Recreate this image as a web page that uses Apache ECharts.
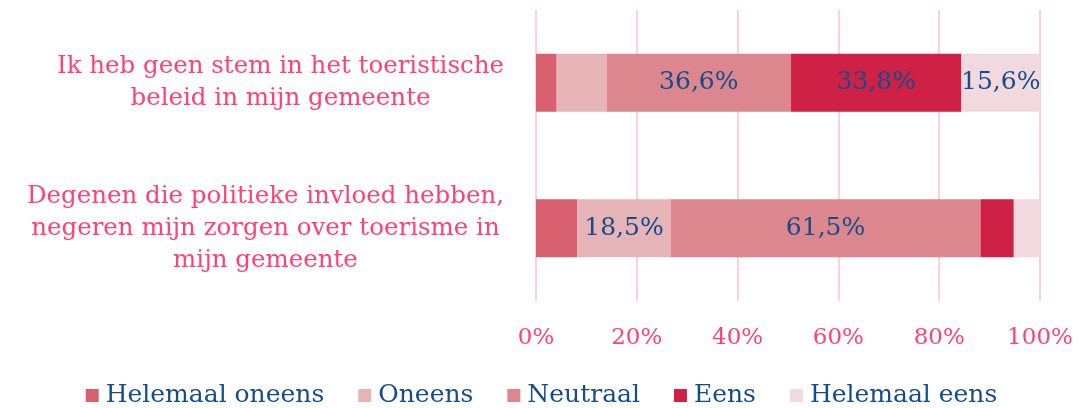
<!DOCTYPE html>
<html>
<head>
<meta charset="utf-8">
<script src="https://cdn.jsdelivr.net/npm/echarts@6/dist/echarts.min.js"></script>
<style>
html,body{margin:0;padding:0;background:#fff}
#chart{width:1083px;height:408px}
</style>
</head>
<body>
<div id="chart"></div>
<script>
const categories = [
  'Ik heb geen stem in het toeristische\nbeleid in mijn gemeente',
  'Degenen die politieke invloed hebben,\nnegeren mijn zorgen over toerisme in\nmijn gemeente'
];
const seriesNames = ['Helemaal oneens', 'Oneens', 'Neutraal', 'Eens', 'Helemaal eens'];
const helemaalOneens = [4.1, 8.2];
const oneens = [9.9, 18.5];
const neutraal = [36.6, 61.5];
const eens = [33.8, 6.6];
const helemaalEens = [15.6, 5.2];
const ticks = [0, 20, 40, 60, 80, 100];

const seriesData = [helemaalOneens, oneens, neutraal, eens, helemaalEens];
const colors = ['#d75f6e', '#e6b3b6', '#db878d', '#cf2146', '#f2d9dd'];
const pink = '#ff4275';
const blue = '#154c8e';
const font = '"DejaVu Serif", Georgia, serif';

const chart = echarts.init(document.getElementById('chart'));

const series = seriesNames.map((name, i) => ({
  name,
  type: 'bar',
  stack: 'total',
  barWidth: 58,
  data: seriesData[i],
  itemStyle: {color: colors[i]},
  label: {
    show: true,
    position: 'inside',
    color: blue,
    fontFamily: font,
    fontSize: 25,
    formatter: p => p.value >= 15 ? p.value.toFixed(1).replace('.', ',') + '%' : ''
  },
  emphasis: {disabled: true}
}));

chart.setOption({
  animation: false,
  color: colors,
  grid: {left: 536, right: 43, top: 10, bottom: 107, containLabel: false},
  legend: {
    top: 378,
    left: 'center',
    itemWidth: 13,
    itemHeight: 13,
    itemGap: 34,
    icon: 'rect',
    textStyle: {color: blue, fontFamily: font, fontSize: 25, padding: [0, 0, 0, 2]},
    data: seriesNames
  },
  xAxis: {
    type: 'value',
    min: 0,
    max: 100,
    interval: 20,
    axisLine: {show: false},
    axisTick: {show: false},
    splitLine: {lineStyle: {color: '#fdd0e0', width: 2}},
    axisLabel: {
      color: pink,
      fontFamily: font,
      fontSize: 23,
      margin: 26,
      formatter: v => ticks.includes(v) ? v + '%' : ''
    }
  },
  yAxis: {
    type: 'category',
    inverse: true,
    data: categories,
    axisLine: {show: false},
    axisTick: {show: false},
    axisLabel: {
      margin: 32,
      lineHeight: 32,
      formatter: v => v.split('\n').map(l => '{c|' + l + '}').join('\n'),
      rich: {
        c: {align: 'center', color: pink, fontFamily: font, fontSize: 24.5, lineHeight: 32}
      }
    }
  },
  series
});
</script>
</body>
</html>
